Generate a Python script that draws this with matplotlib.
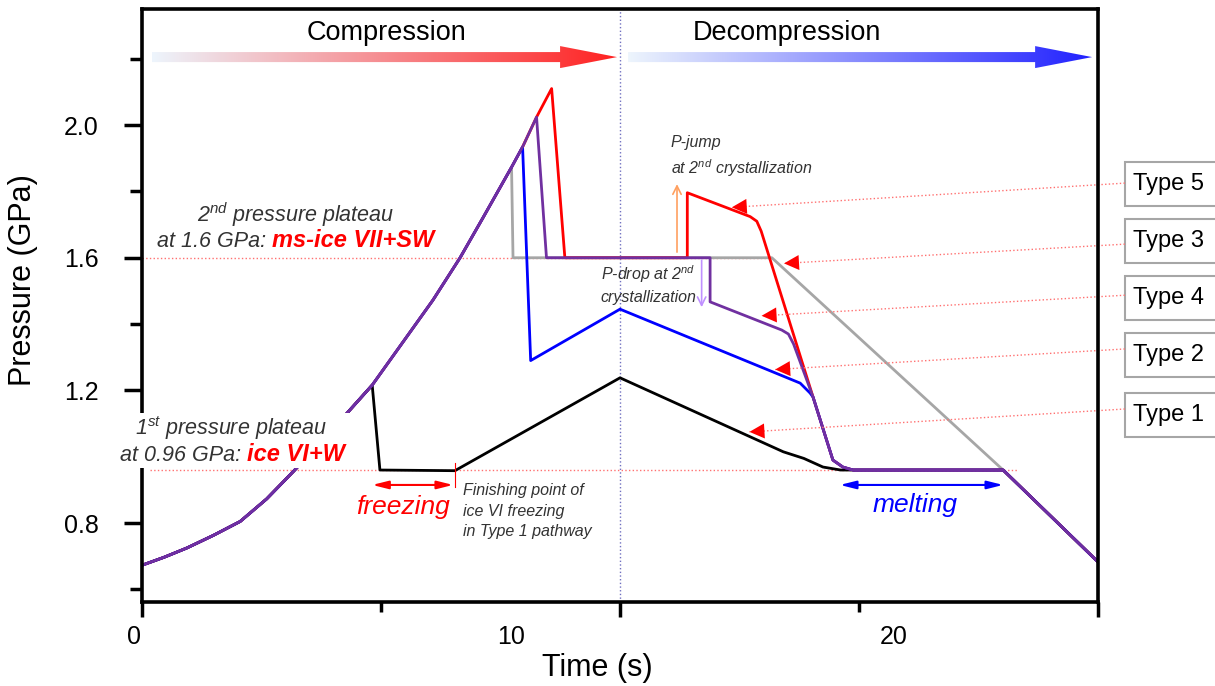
import numpy as np
import matplotlib.pyplot as plt
from matplotlib.patches import Polygon, Rectangle
import matplotlib.transforms as mtransforms

plt.rcParams['font.family'] = ['Liberation Sans', 'DejaVu Sans']
plt.rcParams['mathtext.fontset'] = 'custom'
plt.rcParams['mathtext.rm'] = 'Liberation Sans:italic'
plt.rcParams['mathtext.it'] = 'Liberation Sans:italic'

# common compression ramp (all types follow it until they leave)
t_comp = [0, 0.6, 1.22, 1.94, 2.67, 3.39, 4.11, 4.85, 5.58, 6.26, 7.91, 8.65, 9.27, 10.05, 10.35, 10.73, 11.14]
p_comp = [0.673, 0.697, 0.725, 0.763, 0.805, 0.873, 0.955, 1.043, 1.132, 1.216, 1.472, 1.600, 1.72, 1.873, 1.934, 2.024, 2.11]

# each type: index where it leaves the ramp + its own path
t1_leave = 9
t1_t = [6.47, 8.51, 13.0, 17.44, 18.0, 18.52, 19.0, 23.42, 26.0]
t1_p = [0.96, 0.958, 1.238, 1.015, 0.995, 0.969, 0.96, 0.96, 0.683]

t2_leave = 14
t2_t = [10.57, 13.0, 17.9, 18.17, 18.25, 18.79, 19.06, 19.34, 23.42, 26.0]
t2_p = [1.29, 1.445, 1.222, 1.192, 1.18, 0.99, 0.969, 0.96, 0.96, 0.683]

t3_leave = 13
t3_t = [10.09, 17.13, 23.42, 26.0]
t3_p = [1.6, 1.6, 0.96, 0.683]

t4_leave = 15
t4_t = [11.0, 15.45, 15.45, 17.40, 17.58, 17.72, 18.25, 18.79, 19.06, 19.34, 23.42, 26.0]
t4_p = [1.6, 1.6, 1.467, 1.382, 1.370, 1.340, 1.18, 0.99, 0.969, 0.96, 0.96, 0.683]

t5_leave = 16
t5_t = [11.5, 14.83, 14.83, 16.54, 16.72, 16.84, 18.25, 18.79, 19.06, 19.34, 23.42, 26.0]
t5_p = [1.6, 1.6, 1.796, 1.724, 1.710, 1.680, 1.18, 0.99, 0.969, 0.96, 0.96, 0.683]

# type labels on the right and where their arrows point
type_names = ['Type 5', 'Type 3', 'Type 4', 'Type 2', 'Type 1']
type_box_top = [1.888, 1.717, 1.545, 1.373, 1.192]
type_line_p = [1.825, 1.641, 1.487, 1.325, 1.144]
type_tip_t = [16.04, 17.46, 16.85, 17.22, 16.52]
type_tip_p = [1.752, 1.583, 1.425, 1.263, 1.075]

xtick_pos = [-0.22, 10.04, 20.45]
xtick_labels = ['0', '10', '20']
ytick_pos = [0.8, 1.2, 1.6, 2.0]
ytick_labels = ['0.8', '1.2', '1.6', '2.0']


def path(leave, tt, pp):
    return t_comp[:leave + 1] + tt, p_comp[:leave + 1] + pp


def grad_arrow(ax, x0, x1, xh, yc, hs, hh, c0, c1):
    verts = [(x0, yc - hs), (xh, yc - hs), (xh, yc - hh), (x1, yc),
             (xh, yc + hh), (xh, yc + hs), (x0, yc + hs)]
    poly = Polygon(verts, closed=True, fc='none', ec='none')
    ax.add_patch(poly)
    f = np.linspace(0, 1, 300)[:, None]
    grad = np.array(c0)[None, :] * (1 - f) + np.array(c1)[None, :] * f
    im = ax.imshow(grad[None, :, :], extent=[x0, x1, yc - hh, yc + hh],
                   aspect='auto', zorder=3, interpolation='bilinear')
    im.set_clip_path(poly)


fig = plt.figure(figsize=(12.15, 6.86), dpi=100)
ax = fig.add_axes([0.1169, 0.1224, 0.7868, 0.8645])

# guide lines
ax.plot([0, 17.1], [1.6, 1.6], ls=':', color='#ff7070', lw=1, zorder=1)
ax.plot([0.22, 23.82], [0.96, 0.96], ls=':', color='#ff7070', lw=1, zorder=1)
ax.axvline(13, ls=':', color='#7070c0', lw=1, zorder=1)

lw = 2.0
x, y = path(t3_leave, t3_t, t3_p)
ax.plot(x, y, color='#a6a6a6', lw=lw, zorder=2)
x, y = path(t1_leave, t1_t, t1_p)
ax.plot(x, y, color='black', lw=lw, zorder=2)
x, y = path(t5_leave, t5_t, t5_p)
ax.plot(x, y, color='#ff0000', lw=lw, zorder=2)
x, y = path(t2_leave, t2_t, t2_p)
ax.plot(x, y, color='#0000ff', lw=lw, zorder=2)
x, y = path(t4_leave, t4_t, t4_p)
ax.plot(x, y, color='#7030a0', lw=lw, zorder=2)

# top gradient arrows
grad_arrow(ax, 0.27, 12.92, 11.37, 2.205, 0.0151, 0.0332,
           (0.93, 0.96, 0.99), (1.0, 0.13, 0.13))
grad_arrow(ax, 13.22, 25.84, 24.29, 2.205, 0.0151, 0.0332,
           (0.93, 0.96, 0.99), (0.13, 0.13, 1.0))
ax.text(6.64, 2.277, 'Compression', fontsize=19.5, ha='center', va='center')
ax.text(17.54, 2.277, 'Decompression', fontsize=19.5, ha='center', va='center')

# plateau notes
gray = '#333333'
ax.text(4.19, 1.729, '2$^{nd}$ pressure plateau', fontsize=15.5, style='italic',
        color=gray, ha='center', va='center')
a1 = ax.text(0.41, 1.648, 'at 1.6 GPa:', fontsize=15.5, style='italic',
             color=gray, ha='left', va='center')
ax.annotate('ms-ice VII+SW', xy=(1, 0), xycoords=a1, xytext=(4, 0),
            textcoords='offset points', ha='left', va='bottom', fontsize=17,
            style='italic', weight='bold', color='#ff0000')

ax.add_patch(Rectangle((-0.73, 0.966), 6.39, 0.166, fc='white', ec='none',
                       zorder=4, clip_on=False))
ax.text(2.43, 1.087, '1$^{st}$ pressure plateau', fontsize=15.5, style='italic',
        color=gray, ha='center', va='center', zorder=5, clip_on=False)
b1 = ax.text(-0.6, 1.005, 'at 0.96 GPa:', fontsize=15.5, style='italic',
             color=gray, ha='left', va='center', zorder=5, clip_on=False)
ax.annotate('ice VI+W', xy=(1, 0), xycoords=b1, xytext=(4, 0),
            textcoords='offset points', ha='left', va='bottom', fontsize=17,
            style='italic', weight='bold', color='#ff0000', zorder=5)

# freezing / melting
ax.annotate('', xy=(6.26, 0.915), xytext=(8.46, 0.915),
            arrowprops=dict(arrowstyle='<|-|>,head_length=0.8,head_width=0.2',
                            color='#ff0000', lw=1.5, mutation_scale=12,
                            shrinkA=0, shrinkB=0))
ax.plot([8.51, 8.51], [0.909, 0.981], color='#ff0000', lw=0.8)
ax.text(7.10, 0.848, 'freezing', fontsize=19, style='italic', color='#ff0000',
        ha='center', va='center')
ax.text(8.73, 0.836, 'Finishing point of\nice VI freezing\nin Type 1 pathway',
        fontsize=11.5, style='italic', color=gray, ha='left', va='center',
        linespacing=1.45)

ax.annotate('', xy=(18.98, 0.915), xytext=(23.42, 0.915),
            arrowprops=dict(arrowstyle='<|-|>,head_length=0.8,head_width=0.2',
                            color='#0000ff', lw=1.5, mutation_scale=12,
                            shrinkA=0, shrinkB=0))
ax.text(21.02, 0.854, 'melting', fontsize=19, style='italic', color='#0000ff',
        ha='center', va='center')

# crystallization notes
ax.text(14.38, 1.903, 'P-jump\nat 2$^{nd}$ crystallization', fontsize=11.5,
        style='italic', color=gray, ha='left', va='center', linespacing=1.45)
ax.annotate('', xy=(14.55, 1.822), xytext=(14.55, 1.617),
            arrowprops=dict(arrowstyle='->,head_length=0.5,head_width=0.25',
                            color='#ffa060', lw=1.2, mutation_scale=12,
                            shrinkA=0, shrinkB=0))
ax.text(12.47, 1.520, 'P-drop at 2$^{nd}$\ncrystallization', fontsize=11.5,
        style='italic', color=gray, ha='left', va='center', linespacing=1.45)
ax.annotate('', xy=(15.22, 1.451), xytext=(15.22, 1.593),
            arrowprops=dict(arrowstyle='->,head_length=0.5,head_width=0.25',
                            color='#c090ff', lw=1.2, mutation_scale=12,
                            shrinkA=0, shrinkB=0))

# type label boxes with pointer arrows
box_x = 26.73
box_h = 0.133
for name, top, lp, tt, tp in zip(type_names, type_box_top, type_line_p,
                                 type_tip_t, type_tip_p):
    ax.add_patch(Rectangle((box_x, top - box_h), 3.0, box_h, fc='white',
                           ec='#a6a6a6', lw=1.5, clip_on=False))
    ax.text(26.95, top - box_h / 2, name, fontsize=17, ha='left', va='center',
            clip_on=False)
    ax.plot([box_x, tt], [lp, tp], ls=':', color='#ff7070', lw=1, clip_on=False)
    k = (lp - tp) / (box_x - tt)
    ax.annotate('', xy=(tt, tp), xytext=(tt + 0.5, tp + 0.5 * k),
                arrowprops=dict(arrowstyle='-|>,head_length=0.6,head_width=0.3',
                                color='#ff0000', lw=0, mutation_scale=18,
                                shrinkA=0, shrinkB=0))

# axes styling
ax.set_xlim(0, 26)
ax.set_ylim(0.562, 2.35)
for s in ax.spines.values():
    s.set_linewidth(2.6)
ax.set_xticks([0, 13, 26])
ax.set_xticks([6.5, 19.5], minor=True)
ax.set_xticklabels([])
ax.tick_params(axis='x', which='major', length=11, width=2.5)
ax.tick_params(axis='x', which='minor', length=7, width=2.5)
ax.set_yticks(ytick_pos)
ax.set_yticklabels(ytick_labels, fontsize=18)
ax.set_yticks([0.6, 1.0, 1.4, 1.8, 2.2], minor=True)
ax.tick_params(axis='y', which='major', length=13, width=2.5, pad=18)
ax.tick_params(axis='y', which='minor', length=8.5, width=2.5)

tr = mtransforms.blended_transform_factory(ax.transData, ax.transAxes)
for p, lab in zip(xtick_pos, xtick_labels):
    ax.text(p, -0.0585, lab, fontsize=18, ha='center', va='center', transform=tr)

ax.text(-0.1245, 0.543, 'Pressure (GPa)', fontsize=22, rotation=90,
        ha='center', va='center', transform=ax.transAxes)
ax.text(0.4765, -0.111, 'Time (s)', fontsize=22, ha='center', va='center',
        transform=ax.transAxes)

fig.savefig('out.png', dpi=100)
